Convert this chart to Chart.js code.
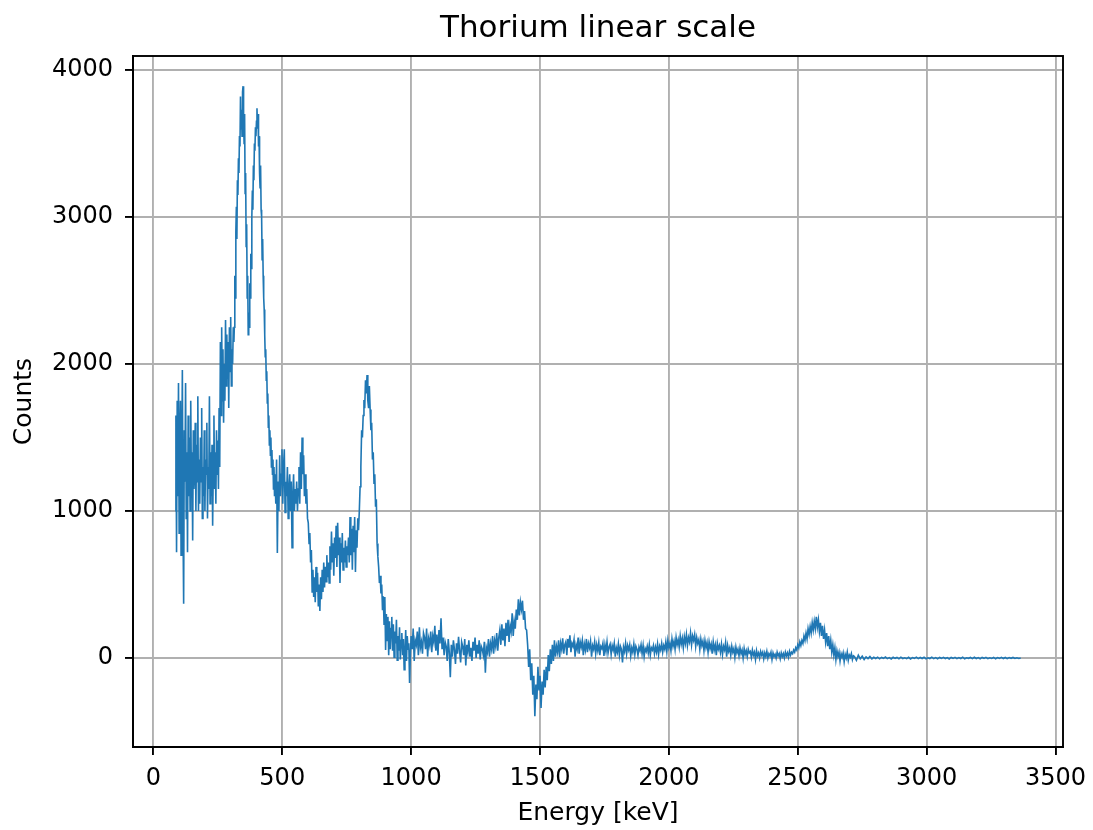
<!DOCTYPE html>
<html>
<head>
<meta charset="utf-8">
<title>Thorium linear scale</title>
<script src="https://cdn.jsdelivr.net/npm/chart.js@4/dist/chart.umd.min.js"></script>
<style>
  html, body { margin: 0; padding: 0; background: #fff; }
</style>
</head>
<body>
<canvas id="spectrum" width="1093" height="830"></canvas>
<script>
// spectrum, split in segments (start energy, step, counts)
const lowStartKeV = 85, lowStepKeV = 2.5;
const lowCounts = [1000, 1650, 720, 1750, 1100, 1870, 850, 1450, 1750, 700,
  1300, 1960, 900, 370, 1550, 1200, 1870, 950, 1400, 720,
  1650, 1100, 1500, 1000, 1750, 1200, 1400, 800, 1550, 1150,
  1300, 1600, 1000, 1450, 1200, 1780, 1000, 1350, 1050, 1500,
  1200, 1700, 950, 1300, 1100, 1550, 1000, 1350, 1250, 1600,
  950, 1300, 1150, 1780, 1050, 1400, 1100, 1450, 900, 1300,
  1650, 1150, 1400, 1050, 1550, 1250, 1480, 1150, 1700, 1300,
  2150, 1650, 2250, 1750, 2100, 1600, 2000, 1750, 2300, 1850,
  2200, 1900, 2150, 1700, 2250, 1950, 2320, 1850, 2100, 2000,
  2250, 2150];

const peakStartKeV = 314, peakStepKeV = 2;
const peakCounts = [2250, 2600, 2450, 2900, 3070, 2850, 3250, 3150, 3400, 3300,
  3550, 3480, 3820, 3600, 3730, 3550, 3850, 3890, 3650, 3500,
  3700, 3160, 3300, 2800, 2950, 2450, 2600, 2200, 2350, 2250,
  2550, 2450, 2750, 2650, 3000, 3180, 3050, 3350, 3250, 3500,
  3450, 3610, 3550, 3650, 3740, 3600, 3700, 3480, 3550, 3300,
  3200, 3350, 3050, 3000, 2710, 2850, 2600, 2450, 2370, 2200,
  2050, 2100, 1890, 1950, 1735, 1800, 1570, 1650, 1450, 1550,
  1380, 1500, 1300, 1415, 1250, 1350, 1150, 1300, 1100];

const midStartKeV = 472, midStepKeV = 3;
const midCounts = [1250, 1050, 1350, 715, 1200, 1000, 1380, 1100, 1250, 1420,
  1050, 1300, 1420, 990, 1200, 1100, 1300, 950, 1150, 1250,
  1000, 1200, 750, 1100, 1250, 1000, 1150, 1050, 1200, 1000,
  1150, 1300, 1050, 1400, 1150, 1500, 1250, 1380, 1100, 1250,
  1050, 1150, 950, 920, 780, 850, 650, 735, 450, 600,
  415, 550, 380, 620, 450, 580, 350, 500, 320, 550,
  400, 600, 450, 650, 480, 620, 520, 700, 550, 650,
  510, 760, 600, 860, 650, 780, 560, 820, 680, 900,
  620, 920, 700, 820, 510, 780, 650, 850, 600, 750,
  650, 800, 620, 760, 700, 820, 650, 960, 700, 880,
  600, 900, 720, 960, 585, 870, 750, 950, 870, 1000,
  1165, 1300, 1550, 1500, 1650, 1755, 1700, 1890, 1800, 1925,
  1750, 1700, 1850, 1690, 1550, 1600, 1350, 1400, 1190, 1250,
  1030, 1080, 780, 690, 620, 510, 560, 440, 500, 325,
  420, 230, 415, 55, 300, 120, 280, 20, 250, 60,
  200, 280, 50, 230, 5, 180, 100, 260, -15, 150,
  50, 210, -10, 120, 170, 20, 130, -80, 30, 190,
  -20, 150, 60, 100, -170, 20];

const comptonStartKeV = 1000, comptonStepKeV = 4;
const comptonCounts = [150, 60, 200, -20, 120, 90, 180, 20, 210, 70,
  110, 30, 170, 140, 60, 200, 10, 130, 90, 180,
  40, 150, 110, 220, 50, 160, 20, 190, 100, 270,
  60, 140, 20, 110, 80, -20, 130, 40, -130, 90,
  10, 120, 60, -40, 100, 30, 145, 50, -30, 110,
  80, 20, 130, -50, 90, 40, 120, 10, 70, -20,
  110, 50, 140, 0, 90, 30, 120, -10, 80, 60,
  20, 110, -100, 70, 40, 130, 10, 100, 60, 150,
  30, 120, 80, 170, 50, 140, 190, 90, 230, 120,
  200, 80, 240, 150, 260, 110, 220, 180, 305, 150,
  250, 200, 330, 260, 400, 290, 380, 330, 390, 260,
  320, 200, 190, 90, -60, 60, -150, -35, -250, -120,
  -395, -180, -280, -60, -220, -120, -340, -160, -250, -80,
  -200, -60, -150, 20, -90, 60, -40, 90, -20, 120,
  10, 80, 40, 120, 5, 100, 60, 135, 30, 90,
  110, 20, 130, 70, 155, 40, 100, 80, 125, 10,
  90, 60, 140, 30, 110, 75, 120, 20, 95, 55,
  130, 40, 100, 70, 115, 10, 85, 60, 110, 30,
  90, 50, 105, 20, 80, 65, 100, 15, 90, 45,
  110, 35, 75, 95, 25, 85, 55, 100, 10, 70,
  40, 95, 20, 80, 60, -30, 75, 45, 100, 30,
  85, 55, 90, 15, 70, 40, 95, 25, 80, 60,
  20, 75, 50, 90, 30, 85, 10, 65, 45, 80,
  35, 90, 20, 70, 55, 85, 30, 75, 40, 95,
  25, 80, 55, 100, 40, 85, 60, 110, 45, 120,
  70, 100, 50, 130, 80, 115, 60, 140, 90, 125,
  75, 150, 95, 135, 70, 145, 100, 160, 85, 140,
  110, 170, 90, 150, 120, 160, 80, 140, 100, 125,
  60, 130, 85, 115, 50, 120, 70, 105, 40, 110,
  65, 95, 30, 110, 55, 90, 20, 100, 60, 85,
  40, 95, 25, 80, 55, 105, 10, 85, 45, 70,
  20, 80, 40, 65, 5, 75, 35, 60, 15, 70,
  30, 55, 0, 65, 25, 50, 10, 60, 35, 45,
  5, 55, 20, 40, -10, 50, 15, 35, 0, 45,
  20, 40, -5, 35, 10, 45, 0, 30, 15, 40,
  -10, 35, 10, 25, 0, 40, 15, 30, -5, 35,
  10, 30, 0, 40, 15, 35, 5, 45, 20, 40,
  30, 55, 40, 70, 55, 90, 70, 110, 85, 120,
  100, 150, 120, 170, 130, 200, 160, 215, 170, 240,
  190, 250, 200, 280, 210, 260, 180, 240, 150, 220,
  130, 190, 110, 170, 80, 150, 60, 120, 40, 90,
  20, 70, -10, 50, 10, 40, -20, 30, 5, 35,
  -25, 25, 0, 40, -15, 20, 5, 30, -10, 15];

const tailStartKeV = 2720, tailStepKeV = 7.5;
const tailCounts = [10, -15, 20, -5, 12, -10, 8, -4, 10, -6,
  5, -3, 6, -5, 4, -2, 7, -4, 3, -6,
  5, -2, 4, -5, 6, -3, 2, -4, 5, -6,
  3, -2, 6, -4, 4, -3, 5, -5, 2, -3,
  6, -4, 3, -5, 4, -2, 5, -3, 3, -6,
  4, -2, 5, -4, 3, -3, 6, -5, 2, -2,
  4, -4, 5, -3, 3, -5, 4, -2, 5, -4,
  2, -3, 4, -5, 3, -2, 5, -3, 4, -4,
  3, -2, 4, -3, 2, -3, 1];

const xTickValues = [0, 500, 1000, 1500, 2000, 2500, 3000, 3500];
const yTickValues = [0, 1000, 2000, 3000, 4000];
const chartTitle = 'Thorium linear scale';

const fontFamily = "'DejaVu Sans', sans-serif";
const lineColor = '#1f77b4';
const gridColor = '#b0b0b0';

let spectrum = {

  segment: function (startKeV, stepKeV, counts) {
    return counts.map((c, i) => ({ x: startKeV + stepKeV * i, y: c }));
  },

  points: function () {
    return [].concat(
      spectrum.segment(lowStartKeV, lowStepKeV, lowCounts),
      spectrum.segment(peakStartKeV, peakStepKeV, peakCounts),
      spectrum.segment(midStartKeV, midStepKeV, midCounts),
      spectrum.segment(comptonStartKeV, comptonStepKeV, comptonCounts),
      spectrum.segment(tailStartKeV, tailStepKeV, tailCounts)
    );
  },

  // matplotlib style: spines on all four sides, title centred over the axes
  frame: {
    id: 'frame',
    afterDatasetsDraw: function (chart) {
      const a = chart.chartArea;
      const ctx = chart.ctx;
      ctx.save();
      ctx.strokeStyle = '#000';
      ctx.lineWidth = 1.9;
      ctx.strokeRect(a.left, a.top, a.right - a.left, a.bottom - a.top);

      ctx.fillStyle = '#000';
      ctx.font = "31px " + fontFamily;
      ctx.textAlign = 'center';
      ctx.textBaseline = 'middle';
      ctx.fillText(chartTitle, (a.left + a.right) / 2, 29);
      ctx.restore();
    }
  },

  axis: function (ticks, min, max, fitSize, titleText, titlePadding, tickPadding) {
    return {
      type: 'linear',
      min: min,
      max: max,
      bounds: 'data',
      afterBuildTicks: function (scale) {
        scale.ticks = ticks.map(v => ({ value: v }));
      },
      afterFit: function (scale) {
        if (scale.isHorizontal()) {
          scale.height = fitSize;
        } else {
          scale.width = fitSize;
        }
        scale.paddingLeft = 0;
        scale.paddingRight = 0;
        scale.paddingTop = 0;
        scale.paddingBottom = 0;
      },
      grid: {
        color: gridColor,
        lineWidth: 1.9,
        tickColor: '#000',
        tickWidth: 1.9,
        tickLength: 8
      },
      border: { color: '#000', width: 1.9 },
      ticks: {
        color: '#000',
        font: { family: fontFamily, size: 24 },
        padding: tickPadding,
        maxRotation: 0,
        autoSkip: false,
        callback: v => String(v)
      },
      title: {
        display: true,
        text: titleText,
        color: '#000',
        font: { family: fontFamily, size: 25 },
        padding: titlePadding
      }
    };
  },

  draw: function () {
    const ctx = document.getElementById('spectrum').getContext('2d');
    new Chart(ctx, {
      type: 'line',
      data: {
        datasets: [{
          data: spectrum.points(),
          borderColor: lineColor,
          borderWidth: 1.6,
          pointRadius: 0,
          fill: false,
          tension: 0
        }]
      },
      options: {
        responsive: false,
        animation: false,
        devicePixelRatio: 1,
        layout: { padding: { left: 0, right: 30, top: 56, bottom: 0 } },
        plugins: {
          legend: { display: false },
          tooltip: { enabled: false },
          title: { display: false }
        },
        scales: {
          x: spectrum.axis(xTickValues, -79, 3529, 83, 'Energy [keV]', { top: 0, bottom: 2 }, 9),
          y: spectrum.axis(yTickValues, -605, 4095, 133, 'Counts', { top: 9, bottom: 0 }, 12)
        }
      },
      plugins: [spectrum.frame]
    });
  }
}

spectrum.draw();
</script>
</body>
</html>
